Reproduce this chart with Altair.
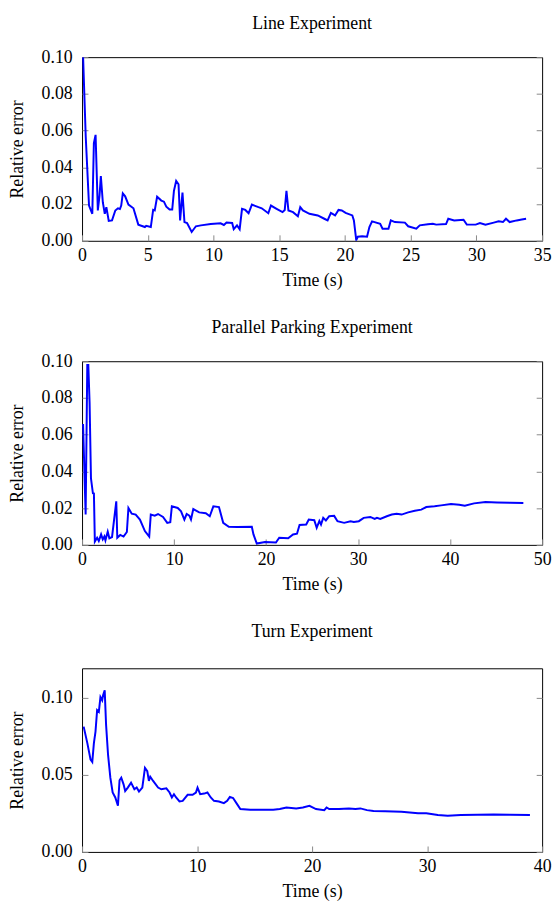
import altair as alt
import pandas as pd

# ---- Line Experiment ----
line_t = [0.08, 0.28, 0.53, 0.78, 0.90, 1.03, 1.20, 1.33, 1.43, 1.58, 1.73, 1.85, 2.03, 2.28, 2.53, 2.73,
          2.88, 2.98, 3.10, 3.28, 3.53, 3.91, 4.28, 4.78, 4.88, 5.23, 5.41, 5.53, 5.71, 6.03, 6.23, 6.41,
          6.66, 6.86, 6.99, 7.16, 7.34, 7.46, 7.64, 7.79, 7.99, 8.34, 8.66, 9.04, 9.79, 10.54, 10.79, 10.99,
          11.42, 11.54, 11.79, 11.99, 12.17, 12.42, 12.67, 12.92, 13.42, 13.67, 14.17, 14.37, 14.80, 15.25,
          15.42, 15.55, 15.70, 16.05, 16.42, 16.60, 16.80, 17.30, 17.93, 18.43, 18.68, 18.93, 19.25, 19.51,
          19.76, 20.05, 20.56, 20.68, 20.86, 20.98, 21.31, 21.68, 21.86, 22.06, 22.68, 22.86, 23.31, 23.49,
          23.80, 24.56, 24.81, 25.43, 25.69, 26.31, 26.69, 26.94, 27.69, 27.86, 28.31, 29.02, 29.27, 29.95,
          30.27, 30.69, 31.32, 31.69, 32.02, 32.25, 32.53, 33.07, 33.45, 33.78]
line_v = [0.1000, 0.0568, 0.0192, 0.0147, 0.0532, 0.0577, 0.0165, 0.0246, 0.0353, 0.0210, 0.0147, 0.0183,
          0.0108, 0.0111, 0.0165, 0.0177, 0.0173, 0.0192, 0.0258, 0.0242, 0.0197, 0.0177, 0.0088, 0.0075,
          0.0081, 0.0075, 0.0168, 0.0165, 0.0240, 0.0219, 0.0213, 0.0186, 0.0170, 0.0170, 0.0272, 0.0326,
          0.0308, 0.0111, 0.0263, 0.0102, 0.0097, 0.0048, 0.0079, 0.0084, 0.0091, 0.0095, 0.0086, 0.0099,
          0.0097, 0.0063, 0.0084, 0.0063, 0.0174, 0.0168, 0.0150, 0.0197, 0.0183, 0.0177, 0.0150, 0.0192,
          0.0174, 0.0156, 0.0168, 0.0272, 0.0165, 0.0156, 0.0134, 0.0183, 0.0165, 0.0147, 0.0138, 0.0120,
          0.0111, 0.0152, 0.0138, 0.0168, 0.0165, 0.0152, 0.0138, 0.0111, 0.0004, 0.0022, 0.0025, 0.0022,
          0.0075, 0.0106, 0.0093, 0.0066, 0.0066, 0.0111, 0.0102, 0.0099, 0.0079, 0.0066, 0.0084, 0.0090,
          0.0093, 0.0088, 0.0091, 0.0120, 0.0111, 0.0115, 0.0088, 0.0088, 0.0097, 0.0088, 0.0099, 0.0106,
          0.0102, 0.0120, 0.0102, 0.0111, 0.0116, 0.0120]

# ---- Parallel Parking Experiment ----
park_t = [0.11, 0.39, 0.57, 0.68, 0.82, 0.97, 1.18, 1.29, 1.39, 1.64, 1.82, 2.07, 2.25, 2.43, 2.54, 2.79,
          2.97, 3.26, 3.72, 3.83, 4.15, 4.51, 4.87, 5.04, 5.40, 5.83, 6.29, 6.83, 7.30, 7.47, 7.90, 8.26,
          8.80, 9.26, 9.59, 9.76, 10.40, 10.76, 11.12, 11.37, 11.66, 11.84, 12.09, 12.73, 13.45, 13.88,
          14.27, 14.88, 15.34, 15.95, 16.85, 18.45, 18.63, 18.99, 19.88, 21.07, 21.43, 22.40, 22.93, 23.36,
          23.64, 24.36, 24.64, 25.24, 25.50, 25.79, 25.97, 26.21, 26.50, 26.86, 27.40, 27.76, 28.48, 29.18,
          29.54, 30.08, 30.61, 31.33, 31.80, 32.05, 32.41, 33.12, 33.66, 34.19, 34.73, 35.44, 36.16, 36.87,
          37.41, 38.31, 39.02, 40.10, 40.99, 41.60, 42.60, 43.85, 45.10, 46.53, 47.96]
park_v = [0.0658, 0.0165, 0.0980, 0.0980, 0.0774, 0.0362, 0.0281, 0.0280, 0.0018, 0.0039, 0.0021, 0.0057,
          0.0030, 0.0046, 0.0025, 0.0072, 0.0036, 0.0043, 0.0237, 0.0039, 0.0054, 0.0045, 0.0070, 0.0201,
          0.0170, 0.0165, 0.0138, 0.0075, 0.0045, 0.0165, 0.0159, 0.0168, 0.0152, 0.0120, 0.0124, 0.0210,
          0.0201, 0.0183, 0.0138, 0.0168, 0.0159, 0.0138, 0.0195, 0.0177, 0.0172, 0.0156, 0.0210, 0.0206,
          0.0120, 0.0099, 0.0097, 0.0099, 0.0057, 0.0007, 0.0016, 0.0013, 0.0039, 0.0036, 0.0057, 0.0061,
          0.0108, 0.0111, 0.0138, 0.0134, 0.0093, 0.0130, 0.0111, 0.0147, 0.0133, 0.0156, 0.0158, 0.0129,
          0.0120, 0.0129, 0.0125, 0.0129, 0.0147, 0.0152, 0.0141, 0.0147, 0.0141, 0.0156, 0.0165, 0.0170,
          0.0165, 0.0177, 0.0186, 0.0192, 0.0206, 0.0210, 0.0215, 0.0222, 0.0219, 0.0213, 0.0226, 0.0233,
          0.0231, 0.0229, 0.0228]

# ---- Turn Experiment ----
turn_t = [0.14, 0.46, 0.74, 0.89, 1.03, 1.17, 1.31, 1.46, 1.60, 1.75, 1.83, 1.97, 2.09, 2.26, 2.46, 2.66,
          2.89, 3.12, 3.26, 3.41, 3.61, 3.75, 3.98, 4.26, 4.55, 4.75, 4.95, 5.24, 5.47, 5.67, 5.81, 5.93,
          6.18, 6.61, 6.90, 7.33, 7.61, 7.81, 7.99, 8.18, 8.47, 8.75, 9.18, 9.61, 9.90, 10.04, 10.27, 10.62,
          10.90, 11.19, 11.47, 11.90, 12.33, 12.62, 12.85, 13.13, 13.48, 13.76, 14.62, 15.76, 16.62, 17.19,
          17.77, 18.62, 19.20, 19.77, 20.34, 21.06, 21.26, 21.49, 22.34, 23.20, 23.77, 24.20, 24.77, 25.34,
          26.35, 27.77, 28.49, 29.21, 29.93, 30.36, 30.93, 31.79, 32.93, 34.36, 35.79, 37.22, 38.94]
turn_v = [0.0812, 0.0705, 0.0598, 0.0583, 0.0705, 0.0780, 0.0919, 0.0908, 0.1004, 0.0983, 0.1015, 0.1047,
          0.0823, 0.0630, 0.0481, 0.0385, 0.0353, 0.0299, 0.0464, 0.0481, 0.0438, 0.0395, 0.0417, 0.0449,
          0.0406, 0.0417, 0.0391, 0.0417, 0.0545, 0.0524, 0.0460, 0.0487, 0.0460, 0.0417, 0.0406, 0.0412,
          0.0385, 0.0353, 0.0374, 0.0353, 0.0327, 0.0331, 0.0370, 0.0370, 0.0385, 0.0417, 0.0374, 0.0378,
          0.0385, 0.0353, 0.0331, 0.0327, 0.0316, 0.0331, 0.0357, 0.0349, 0.0310, 0.0278, 0.0274, 0.0274,
          0.0274, 0.0278, 0.0288, 0.0282, 0.0288, 0.0299, 0.0278, 0.0271, 0.0288, 0.0278, 0.0278, 0.0282,
          0.0278, 0.0282, 0.0271, 0.0265, 0.0263, 0.0261, 0.0256, 0.0250, 0.0250, 0.0246, 0.0239, 0.0235,
          0.0239, 0.0241, 0.0243, 0.0241, 0.0239]

titles = ["Line Experiment", "Parallel Parking Experiment", "Turn Experiment"]
x_max = [35, 50, 40]
x_ticks = [[0, 5, 10, 15, 20, 25, 30, 35], [0, 10, 20, 30, 40, 50], [0, 10, 20, 30, 40]]
y_max = [0.10, 0.10, 0.119]
y_ticks = [[0, 0.02, 0.04, 0.06, 0.08, 0.10], [0, 0.02, 0.04, 0.06, 0.08, 0.10], [0, 0.05, 0.10]]
title_gap = [16, 16, 28]

FONT = "Liberation Serif"
FS = 18
W, H = 466, 186


def panel(t, v, title, xmax, xticks, ymax, yticks, gap):
    df = pd.DataFrame({"t": t, "v": v})
    xsc = alt.Scale(domain=[0, xmax], nice=False, zero=False)
    ysc = alt.Scale(domain=[0, ymax], nice=False, zero=False)
    x_enc = alt.X("t:Q", scale=xsc,
                  axis=alt.Axis(values=xticks, title="Time (s)", format="d", offset=-6, tickSize=6,
                                labelFlush=False, domain=False, grid=False, labelPadding=6, titlePadding=7))
    base = alt.Chart(df)
    main = base.mark_line(color="#0000ff", strokeWidth=2, clip=True).encode(
        x=x_enc,
        y=alt.Y("v:Q", scale=ysc,
                axis=alt.Axis(values=yticks, format=".2f", title="Relative error", offset=-6, tickSize=6,
                              labelFlush=False, domain=False, grid=False, labelPadding=10, titlePadding=15)),
    )
    mirror = base.mark_line(strokeOpacity=0, clip=True).encode(
        x=x_enc,
        y=alt.Y("v:Q", scale=ysc,
                axis=alt.Axis(orient="right", values=yticks, labels=False, title=None, offset=-6,
                              tickSize=6, domain=False, grid=False)),
    )
    return alt.layer(main, mirror).resolve_axis(y="independent").properties(
        width=W, height=H,
        title=alt.TitleParams(title, font=FONT, fontSize=FS, fontWeight="normal", color="black",
                              offset=gap, frame="group"),
    )


panels = [panel(*args) for args in
          zip([line_t, park_t, turn_t], [line_v, park_v, turn_v], titles, x_max, x_ticks, y_max, y_ticks,
              title_gap)]

chart = alt.vconcat(*panels, spacing=28).properties(padding=0).configure_view(
    stroke="black", strokeWidth=1
).configure_axis(
    labelFont=FONT, titleFont=FONT, labelFontSize=FS, titleFontSize=FS, labelColor="black",
    titleColor="black", titleFontWeight="normal", tickColor="#888888", tickWidth=1
).configure_concat(spacing=28)

chart.save("out.html", embed_options={"renderer": "svg", "actions": False})
